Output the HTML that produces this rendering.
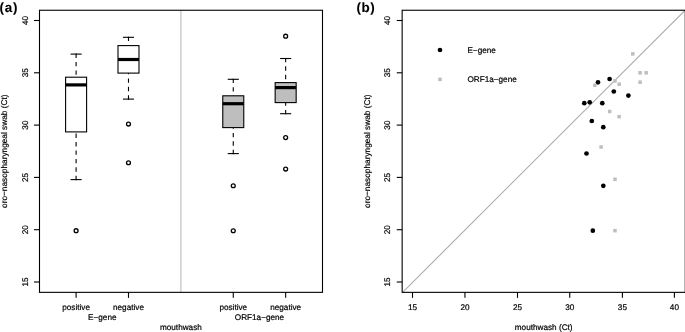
<!DOCTYPE html>
<html><head><meta charset="utf-8"><title>Figure</title>
<style>
html,body{margin:0;padding:0;background:#fff;}
svg{display:block;}
text{font-family:"Liberation Sans",sans-serif;font-size:8.2px;fill:#000;stroke:#000;stroke-width:0.2px;text-rendering:geometricPrecision;}
.b{font-weight:bold;font-size:13.4px;stroke-width:0.1px;}
.k{stroke:#000;stroke-width:1.1;fill:none;}
</style></head><body>
<svg width="685" height="332" viewBox="0 0 685 332">
<rect width="685" height="332" fill="#fff"/>
<text class="b" x="-0.4" y="12.3" letter-spacing="0.8">(a)</text>
<g>
<line class="k" stroke-dasharray="4.4 4.05" x1="76.10" y1="180.20" x2="76.10" y2="131.90"/>
<line class="k" stroke-dasharray="4.4 4.05" x1="76.10" y1="53.50" x2="76.10" y2="77.20"/>
<line class="k" x1="70.55" y1="179.60" x2="81.65" y2="179.60"/>
<line class="k" x1="70.55" y1="54.10" x2="81.65" y2="54.10"/>
<rect class="k" style="fill:#fff" x="65.60" y="77.20" width="21.00" height="54.70"/>
<line stroke="#000" stroke-width="3.2" x1="65.60" y1="84.90" x2="86.60" y2="84.90"/>
<circle class="k" style="stroke-width:1.3" cx="76.10" cy="230.68" r="1.95"/>
</g>
<g>
<line class="k" stroke-dasharray="4.4 4.05" x1="128.49" y1="99.70" x2="128.49" y2="73.10"/>
<line class="k" stroke-dasharray="4.4 4.05" x1="128.49" y1="36.70" x2="128.49" y2="45.60"/>
<line class="k" x1="122.94" y1="99.10" x2="134.04" y2="99.10"/>
<line class="k" x1="122.94" y1="37.30" x2="134.04" y2="37.30"/>
<rect class="k" style="fill:#fff" x="117.99" y="45.60" width="21.00" height="27.50"/>
<line stroke="#000" stroke-width="3.2" x1="117.99" y1="59.50" x2="138.99" y2="59.50"/>
<circle class="k" style="stroke-width:1.3" cx="128.49" cy="124.04" r="1.95"/>
<circle class="k" style="stroke-width:1.3" cx="128.49" cy="162.77" r="1.95"/>
</g>
<g>
<line class="k" stroke-dasharray="4.4 4.05" x1="233.27" y1="154.20" x2="233.27" y2="127.60"/>
<line class="k" stroke-dasharray="4.4 4.05" x1="233.27" y1="78.70" x2="233.27" y2="95.80"/>
<line class="k" x1="227.72" y1="153.60" x2="238.82" y2="153.60"/>
<line class="k" x1="227.72" y1="79.30" x2="238.82" y2="79.30"/>
<rect class="k" style="fill:#bebebe" x="222.77" y="95.80" width="21.00" height="31.80"/>
<line stroke="#000" stroke-width="3.2" x1="222.77" y1="103.70" x2="243.77" y2="103.70"/>
<circle class="k" style="stroke-width:1.3" cx="233.27" cy="185.77" r="1.95"/>
<circle class="k" style="stroke-width:1.3" cx="233.27" cy="230.77" r="1.95"/>
</g>
<g>
<line class="k" stroke-dasharray="4.4 4.05" x1="285.66" y1="114.30" x2="285.66" y2="102.60"/>
<line class="k" stroke-dasharray="4.4 4.05" x1="285.66" y1="57.90" x2="285.66" y2="82.60"/>
<line class="k" x1="280.11" y1="113.70" x2="291.21" y2="113.70"/>
<line class="k" x1="280.11" y1="58.50" x2="291.21" y2="58.50"/>
<rect class="k" style="fill:#bebebe" x="275.16" y="82.60" width="21.00" height="20.00"/>
<line stroke="#000" stroke-width="3.2" x1="275.16" y1="87.60" x2="296.16" y2="87.60"/>
<circle class="k" style="stroke-width:1.3" cx="285.66" cy="36.22" r="1.95"/>
<circle class="k" style="stroke-width:1.3" cx="285.66" cy="137.59" r="1.95"/>
<circle class="k" style="stroke-width:1.3" cx="285.66" cy="169.04" r="1.95"/>
</g>
<line stroke="#d0d0d0" stroke-width="1.6" x1="180.88" y1="10.25" x2="180.88" y2="292.35"/>
<rect class="k" x="39.50" y="10.25" width="283.00" height="282.10"/>
<line class="k" x1="34.00" y1="282.00" x2="39.50" y2="282.00"/>
<text text-anchor="middle" transform="translate(27.50 282.00) rotate(-90)">15</text>
<line class="k" x1="34.00" y1="229.70" x2="39.50" y2="229.70"/>
<text text-anchor="middle" transform="translate(27.50 229.70) rotate(-90)">20</text>
<line class="k" x1="34.00" y1="177.40" x2="39.50" y2="177.40"/>
<text text-anchor="middle" transform="translate(27.50 177.40) rotate(-90)">25</text>
<line class="k" x1="34.00" y1="125.10" x2="39.50" y2="125.10"/>
<text text-anchor="middle" transform="translate(27.50 125.10) rotate(-90)">30</text>
<line class="k" x1="34.00" y1="72.80" x2="39.50" y2="72.80"/>
<text text-anchor="middle" transform="translate(27.50 72.80) rotate(-90)">35</text>
<line class="k" x1="34.00" y1="20.50" x2="39.50" y2="20.50"/>
<text text-anchor="middle" transform="translate(27.50 20.50) rotate(-90)">40</text>
<line class="k" x1="76.10" y1="292.35" x2="76.10" y2="297.85"/>
<text text-anchor="middle" x="76.10" y="309.9">positive</text>
<line class="k" x1="128.49" y1="292.35" x2="128.49" y2="297.85"/>
<text text-anchor="middle" x="128.49" y="309.9">negative</text>
<line class="k" x1="233.27" y1="292.35" x2="233.27" y2="297.85"/>
<text text-anchor="middle" x="233.27" y="309.9">positive</text>
<line class="k" x1="285.66" y1="292.35" x2="285.66" y2="297.85"/>
<text text-anchor="middle" x="285.66" y="309.9">negative</text>
<text text-anchor="middle" x="102.29" y="319.8">E−gene</text>
<text text-anchor="middle" x="259.47" y="319.8">ORF1a−gene</text>
<text text-anchor="middle" x="180.88" y="330.2">mouthwash</text>
<text text-anchor="middle" transform="translate(7.3 151.20) rotate(-90)" style="font-size:8.29px">oro−nasopharyngeal swab (Ct)</text>
<text class="b" x="356.4" y="12.3" letter-spacing="0.65">(b)</text>
<line stroke="#adadad" stroke-width="1.1" x1="402.55" y1="292.35" x2="685.00" y2="10.40"/>
<rect fill="#bebebe" x="631.05" y="52.15" width="3.50" height="3.50"/>
<rect fill="#bebebe" x="638.35" y="71.05" width="3.50" height="3.50"/>
<rect fill="#bebebe" x="644.45" y="71.05" width="3.50" height="3.50"/>
<rect fill="#bebebe" x="638.35" y="80.45" width="3.50" height="3.50"/>
<rect fill="#bebebe" x="613.25" y="79.15" width="3.50" height="3.50"/>
<rect fill="#bebebe" x="617.45" y="82.45" width="3.50" height="3.50"/>
<rect fill="#bebebe" x="593.05" y="83.55" width="3.50" height="3.50"/>
<rect fill="#bebebe" x="607.95" y="109.75" width="3.50" height="3.50"/>
<rect fill="#bebebe" x="617.35" y="114.95" width="3.50" height="3.50"/>
<rect fill="#bebebe" x="599.35" y="145.25" width="3.50" height="3.50"/>
<rect fill="#bebebe" x="613.25" y="177.55" width="3.50" height="3.50"/>
<rect fill="#bebebe" x="613.25" y="228.95" width="3.50" height="3.50"/>
<circle fill="#000" cx="584.30" cy="103.20" r="2.35"/>
<circle fill="#000" cx="589.70" cy="102.30" r="2.35"/>
<circle fill="#000" cx="598.00" cy="82.30" r="2.35"/>
<circle fill="#000" cx="609.60" cy="79.00" r="2.35"/>
<circle fill="#000" cx="613.80" cy="91.50" r="2.35"/>
<circle fill="#000" cx="628.40" cy="95.60" r="2.35"/>
<circle fill="#000" cx="602.30" cy="103.20" r="2.35"/>
<circle fill="#000" cx="591.80" cy="121.00" r="2.35"/>
<circle fill="#000" cx="603.30" cy="127.20" r="2.35"/>
<circle fill="#000" cx="586.50" cy="153.50" r="2.35"/>
<circle fill="#000" cx="603.30" cy="185.80" r="2.35"/>
<circle fill="#000" cx="592.80" cy="230.70" r="2.35"/>
<circle fill="#000" cx="440" cy="50" r="2.35"/>
<rect fill="#bebebe" x="438.25" y="77.65" width="3.50" height="3.50"/>
<text x="467.4" y="53.1">E−gene</text>
<text x="467.4" y="82.4">ORF1a−gene</text>
<rect class="k" x="402.15" y="10.25" width="283.10" height="282.10"/>
<line class="k" x1="396.75" y1="282.00" x2="402.15" y2="282.00"/>
<text text-anchor="middle" transform="translate(390.25 282.00) rotate(-90)">15</text>
<line class="k" x1="412.50" y1="292.35" x2="412.50" y2="297.85"/>
<text text-anchor="middle" x="412.50" y="309.9">15</text>
<line class="k" x1="396.75" y1="229.70" x2="402.15" y2="229.70"/>
<text text-anchor="middle" transform="translate(390.25 229.70) rotate(-90)">20</text>
<line class="k" x1="464.95" y1="292.35" x2="464.95" y2="297.85"/>
<text text-anchor="middle" x="464.95" y="309.9">20</text>
<line class="k" x1="396.75" y1="177.40" x2="402.15" y2="177.40"/>
<text text-anchor="middle" transform="translate(390.25 177.40) rotate(-90)">25</text>
<line class="k" x1="517.50" y1="292.35" x2="517.50" y2="297.85"/>
<text text-anchor="middle" x="517.50" y="309.9">25</text>
<line class="k" x1="396.75" y1="125.10" x2="402.15" y2="125.10"/>
<text text-anchor="middle" transform="translate(390.25 125.10) rotate(-90)">30</text>
<line class="k" x1="569.75" y1="292.35" x2="569.75" y2="297.85"/>
<text text-anchor="middle" x="569.75" y="309.9">30</text>
<line class="k" x1="396.75" y1="72.80" x2="402.15" y2="72.80"/>
<text text-anchor="middle" transform="translate(390.25 72.80) rotate(-90)">35</text>
<line class="k" x1="622.40" y1="292.35" x2="622.40" y2="297.85"/>
<text text-anchor="middle" x="622.40" y="309.9">35</text>
<line class="k" x1="396.75" y1="20.50" x2="402.15" y2="20.50"/>
<text text-anchor="middle" transform="translate(390.25 20.50) rotate(-90)">40</text>
<line class="k" x1="674.40" y1="292.35" x2="674.40" y2="297.85"/>
<text text-anchor="middle" x="674.40" y="309.9">40</text>
<text text-anchor="middle" x="543.70" y="330.1">mouthwash (Ct)</text>
<text text-anchor="middle" transform="translate(370.0 151.20) rotate(-90)" style="font-size:8.29px">oro−nasopharyngeal swab (Ct)</text>
</svg>
</body></html>
